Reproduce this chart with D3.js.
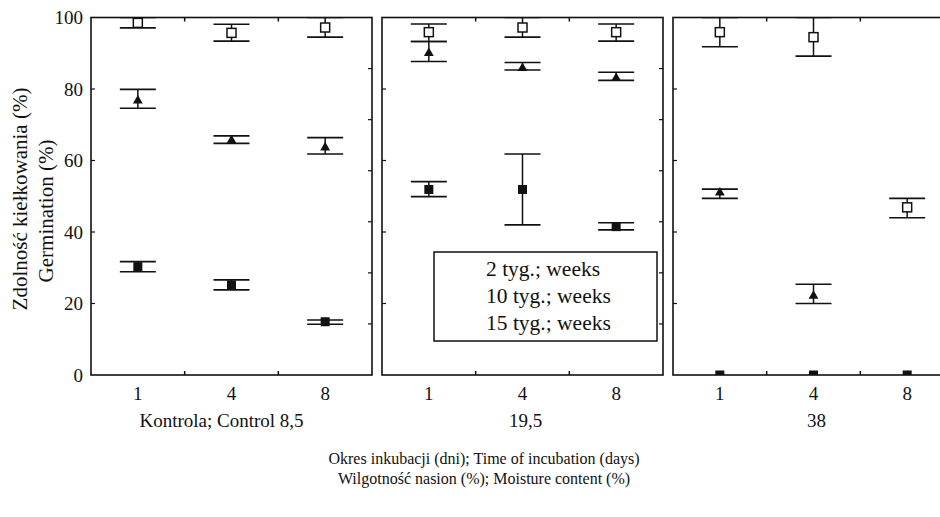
<!DOCTYPE html>
<html>
<head>
<script src="https://d3js.org/d3.v7.min.js"></script>
<style type="text/css">
  body { margin: 0; background: #fff; }
  svg text { font-family: "Times New Roman", Times, "Liberation Serif", "DejaVu Serif", serif; fill: #111; }
</style>
</head>
<body>
<script type="text/javascript">

// moisture content groups (panels) and incubation days
var groups = ["Kontrola; Control 8,5", "19,5", "38"];
var days = ["1", "4", "8"];
var seriesNames = ["2 tyg.; weeks", "10 tyg.; weeks", "15 tyg.; weeks"];
var yTicks = [0, 20, 40, 60, 80, 100];

// means and error bar ends, one row per panel
var w2Mean = [[98.5, 95.7, 97.2], [95.9, 97.2, 95.9], [95.9, 94.5, 46.9]];
var w2Low  = [[97.1, 93.4, 94.5], [93.3, 94.5, 93.4], [91.8, 89.2, 44.0]];
var w2High = [[100, 98.1, 100], [98.2, 100, 98.2], [100, 100, 49.4]];

var w10Mean = [[77.0, 65.9, 63.9], [90.3, 86.1, 83.3], [51.3, 22.4, 0]];
var w10Low  = [[74.6, 64.8, 61.8], [87.7, 85.3, 82.4], [49.4, 20.0, 0]];
var w10High = [[79.9, 66.9, 66.4], [93.3, 87.4, 84.7], [52.0, 25.4, 0]];

var w15Mean = [[30.3, 25.2, 14.9], [51.9, 51.9, 41.5], [0, 0, 0]];
var w15Low  = [[28.9, 23.8, 14.2], [49.9, 42.0, 40.6], [0, 0, 0]];
var w15High = [[31.7, 26.6, 15.4], [54.1, 61.8, 42.6], [0, 0, 0]];

var width = 940, height = 517;
var serif = "'Times New Roman', Times, 'Liberation Serif', 'DejaVu Serif', serif";

var svg = d3.select("body").append("svg")
    .attr("width", width)
    .attr("height", height)
    .attr("font-family", serif);

var xPanel = d3.scaleBand().domain(groups).range([91, 954]).paddingInner(10 / 291);
var pw = xPanel.bandwidth();
var xDay = d3.scalePoint().domain(days).range([0, pw]).padding(0.5);
var y = d3.scaleLinear().domain([0, 100]).range([375, 17.5]);

// build a flat table for drawing
var series = [
  {name: seriesNames[0], mean: w2Mean, low: w2Low, high: w2High, shape: "open"},
  {name: seriesNames[1], mean: w10Mean, low: w10Low, high: w10High, shape: "tri"},
  {name: seriesNames[2], mean: w15Mean, low: w15Low, high: w15High, shape: "filled"}
];
var rows = [];
series.forEach(function(s) {
  groups.forEach(function(g, gi) {
    days.forEach(function(d, di) {
      rows.push({shape: s.shape, group: g, day: d,
        mean: s.mean[gi][di], low: s.low[gi][di], high: s.high[gi][di]});
    });
  });
});

var panel = svg.selectAll(".panel")
    .data(groups)
  .enter().append("g")
    .attr("class", "panel")
    .attr("transform", function(g) { return "translate(" + xPanel(g) + ",0)"; });

panel.append("clipPath")
    .attr("id", function(g, i) { return "clip" + i; })
  .append("rect")
    .attr("x", 0).attr("y", y(100))
    .attr("width", pw).attr("height", y(0) - y(100));

// inner ticks: left every 20, right every 1/7, top/bottom at day boundaries
panel.each(function(g, gi) {
  var p = d3.select(this);
  p.selectAll(".lt").data(yTicks.slice(1, -1)).enter().append("line")
    .attr("x1", 0).attr("x2", 4)
    .attr("y1", function(v) { return y(v); }).attr("y2", function(v) { return y(v); })
    .attr("stroke", "#111").attr("stroke-width", 1.2);
  p.selectAll(".rt").data(d3.range(1, 7).map(function(k) { return k * 100 / 7; })).enter().append("line")
    .attr("x1", pw - 4).attr("x2", pw)
    .attr("y1", function(v) { return y(v); }).attr("y2", function(v) { return y(v); })
    .attr("stroke", "#111").attr("stroke-width", 1.2);
  var bounds = [1, 2].map(function(k) { return k * xDay.step(); });
  p.selectAll(".tt").data(bounds).enter().append("line")
    .attr("x1", function(v) { return v; }).attr("x2", function(v) { return v; })
    .attr("y1", y(100)).attr("y2", y(100) + 4)
    .attr("stroke", "#111").attr("stroke-width", 1.5);
  p.selectAll(".bt").data(bounds).enter().append("line")
    .attr("x1", function(v) { return v; }).attr("x2", function(v) { return v; })
    .attr("y1", y(0)).attr("y2", y(0) - 4)
    .attr("stroke", "#111").attr("stroke-width", 1.5);
});

// x tick labels
panel.selectAll(".xl")
    .data(days)
  .enter().append("text")
    .attr("x", function(d) { return xDay(d); })
    .attr("y", 400)
    .attr("text-anchor", "middle")
    .attr("font-size", 19)
    .text(function(d) { return d; });

// panel (moisture) labels
panel.append("text")
    .attr("x", function(g, i) { return pw / 2 + (i == 0 ? -10 : 3); })
    .attr("y", 427)
    .attr("text-anchor", "middle")
    .attr("font-size", 19)
    .text(function(g) { return g; });

// data marks
var marks = panel.append("g")
    .attr("clip-path", function(g, i) { return "url(#clip" + i + ")"; });

marks.each(function(g) {
  var m = d3.select(this);
  var data = rows.filter(function(r) { return r.group == g; });

  m.selectAll(".eb").data(data).enter().append("line")
    .attr("x1", function(r) { return xDay(r.day); }).attr("x2", function(r) { return xDay(r.day); })
    .attr("y1", function(r) { return y(r.low); }).attr("y2", function(r) { return y(r.high); })
    .attr("stroke", "#111").attr("stroke-width", 1.5);

  m.selectAll(".capLo").data(data.filter(function(r) { return r.high > r.low; })).enter().append("line")
    .attr("x1", function(r) { return xDay(r.day) - 18; }).attr("x2", function(r) { return xDay(r.day) + 18; })
    .attr("y1", function(r) { return y(r.low); }).attr("y2", function(r) { return y(r.low); })
    .attr("stroke", "#111").attr("stroke-width", 1.6);
  m.selectAll(".capHi").data(data.filter(function(r) { return r.high > r.low; })).enter().append("line")
    .attr("x1", function(r) { return xDay(r.day) - 18; }).attr("x2", function(r) { return xDay(r.day) + 18; })
    .attr("y1", function(r) { return y(r.high); }).attr("y2", function(r) { return y(r.high); })
    .attr("stroke", "#111").attr("stroke-width", 1.6);

  m.selectAll(".tri").data(data.filter(function(r) { return r.shape == "tri"; })).enter().append("path")
    .attr("d", d3.symbol().type(d3.symbolTriangle).size(42))
    .attr("transform", function(r) { return "translate(" + xDay(r.day) + "," + (y(r.mean) + 1) + ")"; })
    .attr("fill", "#111");

  m.selectAll(".fsq").data(data.filter(function(r) { return r.shape == "filled"; })).enter().append("rect")
    .attr("x", function(r) { return xDay(r.day) - 4.5; })
    .attr("y", function(r) { return y(r.mean) - 4.5; })
    .attr("width", 9).attr("height", 9)
    .attr("fill", "#111");

  m.selectAll(".osq").data(data.filter(function(r) { return r.shape == "open"; })).enter().append("rect")
    .attr("x", function(r) { return xDay(r.day) - 4.5; })
    .attr("y", function(r) { return y(r.mean) - 4.5; })
    .attr("width", 9).attr("height", 9)
    .attr("fill", "#fff").attr("stroke", "#111").attr("stroke-width", 1.5);
});

// panel frames
panel.append("rect")
    .attr("x", 0).attr("y", y(100))
    .attr("width", pw).attr("height", y(0) - y(100))
    .attr("fill", "none").attr("stroke", "#111").attr("stroke-width", 1.6);

// y axis labels (first panel only)
svg.selectAll(".yl")
    .data(yTicks)
  .enter().append("text")
    .attr("x", 83)
    .attr("y", function(v) { return y(v) + 6.5; })
    .attr("text-anchor", "end")
    .attr("font-size", 19)
    .text(function(v) { return v; });

svg.append("text")
    .attr("transform", "translate(27,199) rotate(-90)")
    .attr("text-anchor", "middle")
    .attr("font-size", 21)
    .text("Zdolność kiełkowania (%)");
svg.append("text")
    .attr("transform", "translate(53,211) rotate(-90)")
    .attr("text-anchor", "middle")
    .attr("font-size", 21)
    .text("Germination (%)");

// legend box (symbols were lost in the original scan)
var lg = svg.append("g");
lg.append("rect")
    .attr("x", 434).attr("y", 252)
    .attr("width", 223).attr("height", 89)
    .attr("fill", "#fff").attr("stroke", "#111").attr("stroke-width", 1.5);
lg.selectAll("text")
    .data(seriesNames)
  .enter().append("text")
    .attr("x", 486)
    .attr("y", function(d, i) { return 276 + i * 27; })
    .attr("font-size", 21.5)
    .text(function(d) { return d; });

// axis titles
svg.append("text")
    .attr("x", 484).attr("y", 464)
    .attr("text-anchor", "middle")
    .attr("font-size", 16)
    .text("Okres inkubacji (dni); Time of incubation (days)");
svg.append("text")
    .attr("x", 484).attr("y", 484)
    .attr("text-anchor", "middle")
    .attr("font-size", 16)
    .text("Wilgotność nasion (%); Moisture content (%)");

</script>
</body>
</html>
